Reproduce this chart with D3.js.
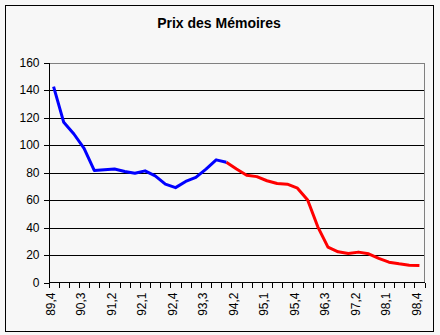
<!DOCTYPE html>
<html><head><meta charset="utf-8">
<script src="https://cdn.jsdelivr.net/npm/d3@7"></script>
<style>html,body{margin:0;padding:0;background:#f7f7f7;}svg{display:block;}</style>
</head><body>
<script>
const categories = ["89,4","90,1","90,2","90,3","90,4","91,1","91,2","91,3","91,4","92,1","92,2","92,3","92,4",
  "93,1","93,2","93,3","93,4","94,1","94,2","94,3","94,4","95,1","95,2","95,3","95,4","96,1","96,2","96,3","96,4",
  "97,1","97,2","97,3","97,4","98,1","98,2","98,3","98,4"];
const blueValues = [142.5,116.5,108,97.5,81.5,82,82.5,80.7,79.5,81.2,77.5,71.5,69,73.5,76.5,82.5,89.2,87.5];
const redValues = [87.5,82.5,78,77,74,72,71.5,68.6,60,40.5,25.7,22.3,21.1,22.1,20.9,17.5,14.8,13.6,12.6,12.4];
const redStart = 17;
const yTicks = [0,20,40,60,80,100,120,140,160];
const xLabels = ["89,4","90,3","91,2","92,1","92,4","93,3","94,2","95,1","95,4","96,3","97,2","98,1","98,4"];
const title = "Prix des Mémoires";

(function () {
const W = 440, H = 335;
const svg = d3.select("body").append("svg").attr("width", W).attr("height", H);
svg.append("rect").attr("width", W).attr("height", H).attr("fill", "#f7f7f7");
svg.append("rect").attr("x", 5.5).attr("y", 5.5).attr("width", 428).attr("height", 326)
  .attr("fill", "none").attr("stroke", "#000").attr("stroke-width", 1);

const pLeft = 48.5, pRight = 424.5, pTop = 62.5, pBottom = 282.5;
const x = d3.scaleBand().domain(categories).range([pLeft, pRight]).padding(0);
const y = d3.scaleLinear().domain([0, 160]).range([pBottom, pTop]);
const font = "'Liberation Sans', Arial, sans-serif";

svg.append("text").attr("x", 219).attr("y", 28).attr("text-anchor", "middle")
  .attr("font-family", font).attr("font-weight", "bold").attr("font-size", 14).text(title);

// gridlines
svg.append("g").selectAll("line").data(yTicks.filter(d => d > 0)).join("line")
  .attr("x1", pLeft).attr("x2", pRight)
  .attr("y1", d => Math.round(y(d)) + 0.5).attr("y2", d => Math.round(y(d)) + 0.5)
  .attr("stroke", d => d === 160 ? "#808080" : "#000").attr("shape-rendering", "crispEdges");
svg.append("line").attr("x1", pRight).attr("x2", pRight).attr("y1", pTop).attr("y2", pBottom)
  .attr("stroke", "#808080").attr("shape-rendering", "crispEdges");

// y axis
const yAxis = d3.axisLeft(y).tickValues(yTicks).tickSize(5).tickPadding(4);
const gy = svg.append("g").attr("transform", `translate(${pLeft},0)`).call(yAxis);
gy.select(".domain").attr("stroke", "#000");
gy.selectAll(".tick line").attr("stroke", "#000");
gy.selectAll("text").attr("font-family", font).attr("font-size", 12).attr("fill", "#000");
gy.attr("shape-rendering", "crispEdges");

// x axis: ticks at band boundaries
const bounds = categories.map(c => x(c)).concat([x(categories[categories.length - 1]) + x.bandwidth()]);
svg.append("line").attr("x1", pLeft).attr("x2", pRight).attr("y1", pBottom).attr("y2", pBottom)
  .attr("stroke", "#000").attr("shape-rendering", "crispEdges");
svg.append("g").selectAll("line").data(bounds).join("line")
  .attr("x1", d => Math.round(d) + 0.5).attr("x2", d => Math.round(d) + 0.5)
  .attr("y1", pBottom).attr("y2", pBottom + 5).attr("stroke", "#000").attr("shape-rendering", "crispEdges");
svg.append("g").selectAll("text").data(xLabels).join("text")
  .attr("transform", d => `translate(${x(d) + x.bandwidth() / 2 - 3},${pBottom + 10}) rotate(-90)`)
  .attr("text-anchor", "end").attr("dy", "0.35em")
  .attr("font-family", font).attr("font-size", 12).attr("fill", "#000").text(d => d);

// lines
const cx = i => x(categories[i]) + x.bandwidth() / 2;
const line = d3.line().x(d => cx(d.i)).y(d => y(d.v)).curve(d3.curveLinear);
const blueData = blueValues.map((v, i) => ({i, v}));
const redData = redValues.map((v, k) => ({i: redStart + k, v}));
svg.append("path").datum(redData).attr("d", line).attr("fill", "none")
  .attr("stroke", "#ff0000").attr("stroke-width", 3).attr("stroke-linejoin", "round");
svg.append("path").datum(blueData).attr("d", line).attr("fill", "none")
  .attr("stroke", "#0000ff").attr("stroke-width", 3).attr("stroke-linejoin", "round");
})();
</script>
</body></html>
